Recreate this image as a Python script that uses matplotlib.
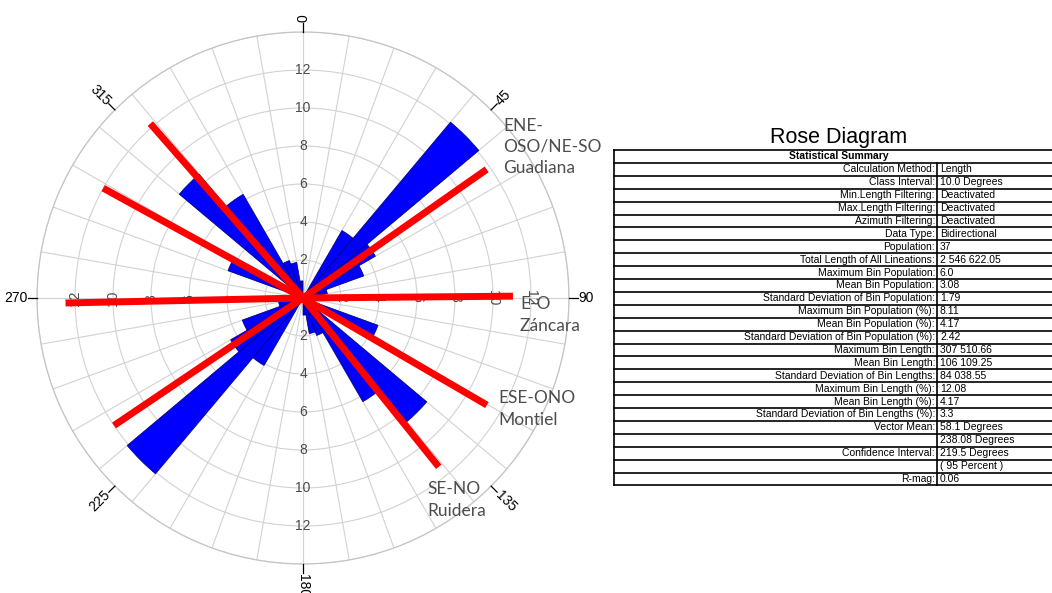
import numpy as np
import matplotlib.pyplot as plt

# 10 degree classes, bidirectional (each class is mirrored at +180)
bin_start = np.arange(0, 180, 10)
bin_length_pct = [0, 0, 0, 4.1, 12.08, 4.4, 3.4, 1.3, 0.9,
                  0, 0, 4.2, 0, 8.5, 6.3, 2.1, 1.9, 0.9]

# lineament families drawn over the rose (azimuth and length of each end)
family_names = ["ENE-\nOSO/NE-SO\nGuadiana", "E-O\nZáncara",
                "ESE-ONO\nMontiel", "SE-NO\nRuidera"]
family_az_a = [55.0, 89.5, 120.2, 141.2]
family_len_a = [11.8, 11.05, 11.2, 11.4]
family_az_b = [236.0, 268.8, 298.8, 318.8]
family_len_b = [12.0, 12.5, 12.0, 12.2]
family_text_xy = [(503, 147), (520, 315), (498, 409), (427, 500)]

compass_ticks = [0, 45, 90, 135, 180, 225, 270, 315]
radial_ticks = [2, 4, 6, 8, 10, 12]

stat_labels = ["Calculation Method:", "Class Interval:", "Min.Length Filtering:",
               "Max.Length Filtering:", "Azimuth Filtering:", "Data Type:",
               "Population:", "Total Length of All Lineations:",
               "Maximum Bin Population:", "Mean Bin Population:",
               "Standard Deviation of Bin Population:",
               "Maximum Bin Population (%):", "Mean Bin Population (%):",
               "Standard Deviation of Bin Population (%):",
               "Maximum Bin Length:", "Mean Bin Length:",
               "Standard Deviation of Bin Lengths:", "Maximum Bin Length (%):",
               "Mean Bin Length (%):", "Standard Deviation of Bin Lengths (%):",
               "Vector Mean:", "", "Confidence Interval:", "", "R-mag:"]
stat_values = ["Length", "10.0 Degrees", "Deactivated", "Deactivated",
               "Deactivated", "Bidirectional", "37", "2 546 622.05", "6.0",
               "3.08", "1.79", "8.11", "4.17", "2.42", "307 510.66",
               "106 109.25", "84 038.55", "12.08", "4.17", "3.3",
               "58.1 Degrees", "238.08 Degrees", "219.5 Degrees",
               "( 95 Percent )", "0.06"]

W, H = 1052, 593
fig = plt.figure(figsize=(W / 100, H / 100), dpi=100)

# polar rose
cx, cy, rad = 303, 298, 266
ax = fig.add_axes([(cx - rad) / W, (H - cy - rad) / H, 2 * rad / W, 2 * rad / H],
                  projection='polar')
ax.set_theta_zero_location('N')
ax.set_theta_direction(-1)
ax.set_ylim(0, 14)
ax.set_xticks(np.deg2rad(np.arange(0, 360, 10)))
ax.set_xticklabels([])
ax.set_yticks(np.arange(2, 15, 2))
ax.set_yticklabels([])
ax.grid(color='#d2d2d2', lw=0.8)
ax.spines['polar'].set_color('#c4c4c4')
ax.spines['polar'].set_linewidth(0.9)
ax.tick_params(length=0)

centres = np.deg2rad(np.concatenate([bin_start + 5, bin_start + 185]))
lengths = np.concatenate([bin_length_pct, bin_length_pct])
ax.bar(centres, lengths, width=np.deg2rad(10), color='#0000ff',
       edgecolor='#000070', linewidth=0.5, zorder=2)

# radial value labels along the four axes
for r in radial_ticks:
    for az, rot in [(0, 0), (180, 0), (90, -90), (270, 90)]:
        ax.text(np.deg2rad(az), r, str(r), rotation=rot, ha='center', va='center',
                fontsize=10, color='#4a4a4a', family='Liberation Sans', zorder=3)

# compass labels with small ticks
for az in compass_ticks:
    t = np.deg2rad(az)
    ax.plot([t, t], [14, 14.45], color='black', lw=0.9, clip_on=False, zorder=3)
    if az <= 180:
        rot, ha = 90 - az, 'left'
    else:
        rot, ha = 270 - az, 'right'
    ax.text(t, 14.5, str(az), rotation=rot, rotation_mode='anchor', ha=ha,
            va='center', fontsize=10, family='Liberation Sans', clip_on=False)

# red lineament families
for a1, l1, a2, l2 in zip(family_az_a, family_len_a, family_az_b, family_len_b):
    ax.plot(np.deg2rad([a1, a1, a2]), [l1, 0, l2], color='#ff0000', lw=5,
            solid_capstyle='butt', zorder=4)

# overlay in pixel coordinates for annotations and table
ov = fig.add_axes([0, 0, 1, 1])
ov.set_xlim(0, W)
ov.set_ylim(H, 0)
ov.axis('off')
ov.patch.set_visible(False)

for name, (x, y) in zip(family_names, family_text_xy):
    ov.text(x, y, name, ha='left', va='center', fontsize=12.5, family='Lato',
            color='#4d4d4d', linespacing=1.4)

# statistical summary table
tx0, tx1, tdiv, ty0, rh = 614, 1060, 937, 150, 12.9
n_rows = len(stat_labels) + 1
ov.text(839, 137, "Rose Diagram", ha='center', va='center', fontsize=15.5,
        family='Liberation Sans')
for i in range(n_rows + 1):
    ov.plot([tx0, tx1], [ty0 + i * rh] * 2, color='black', lw=1.2)
ov.plot([tx0, tx0], [ty0, ty0 + n_rows * rh], color='black', lw=1.2)
ov.plot([tdiv, tdiv], [ty0 + rh, ty0 + n_rows * rh], color='black', lw=1.2)
tfont = ['Liberation Sans Narrow', 'Liberation Sans', 'DejaVu Sans']
ov.text(839, ty0 + rh / 2, "Statistical Summary", ha='center', va='center',
        fontsize=7.5, fontweight='bold', family=tfont)
for i, (lab, val) in enumerate(zip(stat_labels, stat_values)):
    y = ty0 + (i + 1.5) * rh
    ov.text(tdiv - 2, y, lab, ha='right', va='center', fontsize=7.5, family=tfont)
    ov.text(tdiv + 3, y, val, ha='left', va='center', fontsize=7.5, family=tfont)

fig.savefig('out.png', dpi=100)
